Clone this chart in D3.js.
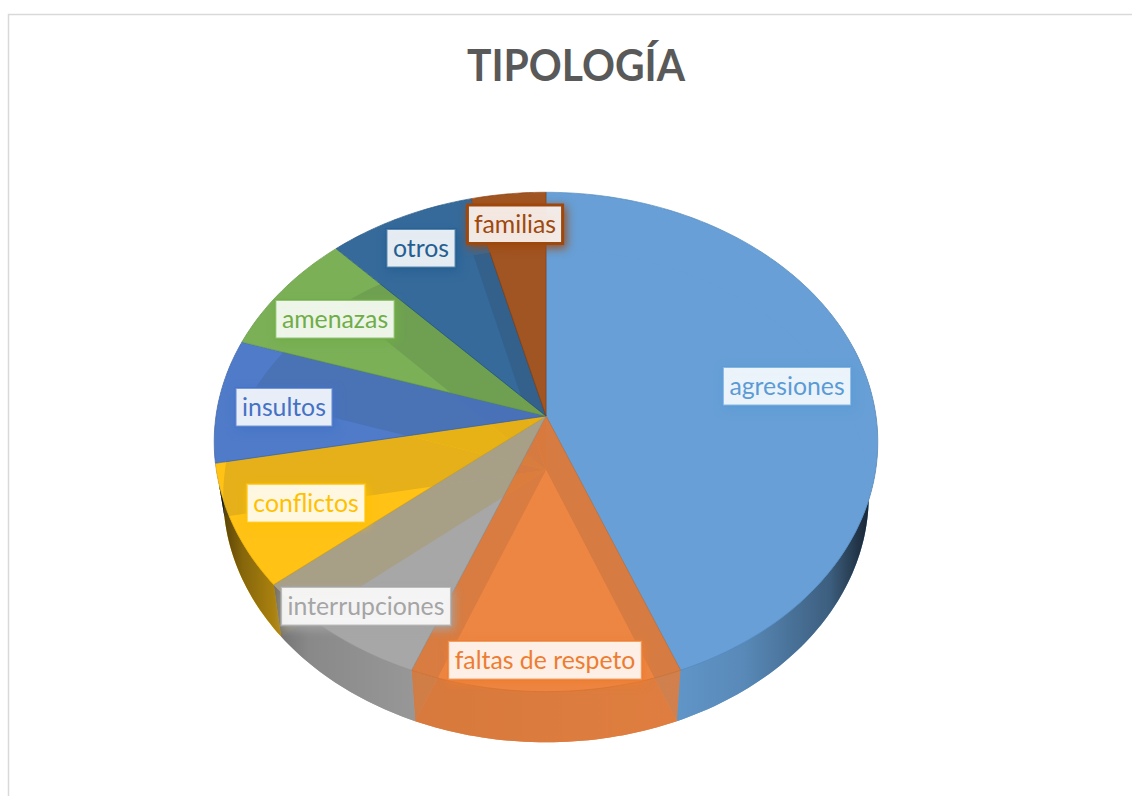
<!DOCTYPE html>
<html>
<head>
<meta charset="utf-8">
<script src="https://cdn.jsdelivr.net/npm/d3@7"></script>
<style>
  body { margin: 0; background: #fff; }
  text { font-family: Lato, "Open Sans", sans-serif; }
</style>
</head>
<body>
<div id="vis"></div>
<script>
const FRAME_WIDTH = 1132;
const FRAME_HEIGHT = 796;

const categories = ["agresiones", "faltas de respeto", "interrupciones", "conflictos",
                    "insultos", "amenazas", "otros", "familias"];
const values = [44, 12, 8, 8, 8, 8, 8, 4];

const SLICE_COLORS = ["#679fd6", "#ed8643", "#a7a7a7", "#ffc215", "#4f7bc9", "#7bb057", "#356a9b", "#a05522"];
const TEXT_COLORS = ["#5b9bd5", "#ed7d31", "#a5a5a5", "#ffc000", "#4472c4", "#70ad47", "#255e91", "#9e480e"];

// label centres, free placement like the original
const LABEL_X = [787, 545, 366, 306, 284, 335, 421, 515];
const LABEL_Y = [386, 660, 606, 503, 407, 319, 248, 224];

// perspective of the two pie faces
const TILT = -0.104;
const TOP_FACE = {cx: 546, cy: 416, a: 330, b: 247};
const BOTTOM_FACE = {cx: 546, cy: 470, a: 321, b: 244};

const project = (face, angle) => {
  const u = -Math.cos(angle), v = Math.sin(angle);
  const w = 1 + TILT * u;
  return [face.cx + face.a * v / w, face.cy + face.b * u / w];
};

const rim = (face, a0, a1) => {
  const n = Math.max(2, Math.ceil((a1 - a0) / 0.02));
  return d3.range(n + 1).map(i => project(face, a0 + (a1 - a0) * i / n));
};

const line = d3.line();
const sector = (face, d) => line([[face.cx, face.cy], ...rim(face, d.startAngle, d.endAngle)]) + "Z";

// colour of slice i where slice j's bottom shows through it
const throughColor = (i, j) => {
  if (i == j) return SLICE_COLORS[i];
  // the grey slice reads tan whatever lies under it
  if (i == 2) return d3.interpolateRgb(d3.color(SLICE_COLORS[2]).darker(0.24), SLICE_COLORS[3])(0.14);
  return d3.interpolateRgb(d3.color(SLICE_COLORS[i]).darker(0.24), SLICE_COLORS[j])(0.03);
};

const svg = d3.select("#vis").append("svg")
    .attr("width", FRAME_WIDTH)
    .attr("height", FRAME_HEIGHT)
    .style("display", "block");

// chart frame, cut off by the screenshot
svg.append("path")
    .attr("d", `M8.5,${FRAME_HEIGHT}V14.5H${FRAME_WIDTH}`)
    .attr("fill", "none")
    .attr("stroke", "#d9d9d9")
    .attr("stroke-width", 1.5);

svg.append("text")
    .attr("x", 576)
    .attr("y", 81)
    .attr("text-anchor", "middle")
    .attr("font-size", 44)
    .attr("font-weight", 700)
    .attr("fill", "#595959")
    .attr("textLength", 218)
    .attr("lengthAdjust", "spacingAndGlyphs")
    .text("TIPOLOGÍA");

const defs = svg.append("defs");

// only keep the wall where it sticks out below the top face
defs.append("clipPath").attr("id", "outside-top")
  .append("path")
    .attr("clip-rule", "evenodd")
    .attr("d", `M0,0H${FRAME_WIDTH}V${FRAME_HEIGHT}H0Z` + line(rim(TOP_FACE, 0, 2 * Math.PI)) + "Z");

const shade = defs.append("linearGradient").attr("id", "wall-shade")
    .attr("gradientUnits", "userSpaceOnUse")
    .attr("x1", TOP_FACE.cx - TOP_FACE.a).attr("x2", TOP_FACE.cx + TOP_FACE.a)
    .attr("y1", 0).attr("y2", 0);
[[0, .7], [.04, .45], [.14, .14], [.3, .05], [.7, .02], [.8, .1], [.93, .38], [.98, .7], [1, .8]].forEach(s => {
  shade.append("stop").attr("offset", s[0]).attr("stop-color", "#000").attr("stop-opacity", s[1]);
});

const slices = d3.pie().sort(null)(values);

// bottom face, seen through the walls
svg.append("g").selectAll("path")
  .data(slices)
  .enter()
  .append("path")
    .attr("d", d => sector(BOTTOM_FACE, d))
    .attr("fill", (d, i) => SLICE_COLORS[i]);

const wallPath = d => line([...rim(TOP_FACE, d.startAngle, d.endAngle),
                            ...rim(BOTTOM_FACE, d.startAngle, d.endAngle).reverse()]) + "Z";

const walls = svg.append("g").attr("clip-path", "url(#outside-top)");

walls.selectAll(".wall")
  .data(slices)
  .enter()
  .append("path")
    .attr("class", "wall")
    .attr("d", wallPath)
    .attr("fill", (d, i) => d3.color(SLICE_COLORS[i]).darker(0.15))
    .attr("fill-opacity", 0.9);

walls.selectAll(".wall-shade")
  .data(slices)
  .enter()
  .append("path")
    .attr("class", "wall-shade")
    .attr("d", wallPath)
    .attr("fill", "url(#wall-shade)");

// top face: each slice clipped, with the bottom slices under it showing as tints
slices.forEach((s, i) => {
  defs.append("clipPath").attr("id", "top-" + i)
    .append("path").attr("d", sector(TOP_FACE, s));

  const g = svg.append("g");
  const inner = g.append("g").attr("clip-path", "url(#top-" + i + ")");

  inner.append("path")
      .attr("d", sector(TOP_FACE, s))
      .attr("fill", SLICE_COLORS[i]);

  inner.selectAll("path.through")
    .data(slices)
    .enter()
    .append("path")
      .attr("class", "through")
      .attr("d", d => sector(BOTTOM_FACE, d))
      .attr("fill", (d, j) => throughColor(i, j));

  g.append("path")
      .attr("d", sector(TOP_FACE, s))
      .attr("fill", "none")
      .attr("stroke", d3.color(TEXT_COLORS[i]).darker(0.4))
      .attr("stroke-opacity", 0.8)
      .attr("stroke-width", 0.8);
});

// labels
const labels = svg.append("g").selectAll("g")
  .data(categories)
  .enter()
  .append("g")
    .attr("transform", (d, i) => "translate(" + LABEL_X[i] + "," + LABEL_Y[i] + ")");

labels.append("rect");

labels.append("text")
    .attr("text-anchor", "middle")
    .attr("dy", 8.5)
    .attr("font-size", 24.8)
    .attr("fill", (d, i) => TEXT_COLORS[i])
    .text(d => d);

labels.each(function (d, i) {
  const g = d3.select(this);
  const w = g.select("text").node().getBBox().width + 13;
  g.select("rect")
      .attr("x", -w / 2)
      .attr("y", -19)
      .attr("width", w)
      .attr("height", 38.5)
      .attr("fill", "#fff")
      .attr("fill-opacity", 0.88)
      .attr("stroke", TEXT_COLORS[i])
      .attr("stroke-opacity", i == 7 ? 1 : 0.7)
      .attr("stroke-width", i == 7 ? 3 : 2)
      .style("filter", "drop-shadow(2px 3px 5px " + TEXT_COLORS[i] + ")");
});
</script>
</body>
</html>
